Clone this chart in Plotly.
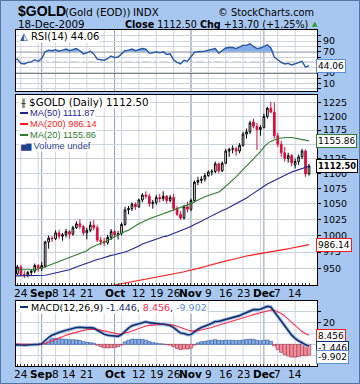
import math
import plotly.graph_objects as go

# ---------------- data ----------------
dates = [
    "2009-08-20", "2009-08-21", "2009-08-24", "2009-08-25", "2009-08-26", "2009-08-27", "2009-08-28", "2009-08-31",
    "2009-09-01", "2009-09-02", "2009-09-03", "2009-09-04", "2009-09-08", "2009-09-09", "2009-09-10", "2009-09-11",
    "2009-09-14", "2009-09-15", "2009-09-16", "2009-09-17", "2009-09-18", "2009-09-21", "2009-09-22", "2009-09-23",
    "2009-09-24", "2009-09-25", "2009-09-28", "2009-09-29", "2009-09-30",
    "2009-10-01", "2009-10-02", "2009-10-05", "2009-10-06", "2009-10-07", "2009-10-08", "2009-10-09", "2009-10-12",
    "2009-10-13", "2009-10-14", "2009-10-15", "2009-10-16", "2009-10-19", "2009-10-20", "2009-10-21", "2009-10-22",
    "2009-10-23", "2009-10-26", "2009-10-27", "2009-10-28", "2009-10-29", "2009-10-30",
    "2009-11-02", "2009-11-03", "2009-11-04", "2009-11-05", "2009-11-06", "2009-11-09", "2009-11-10", "2009-11-11",
    "2009-11-12", "2009-11-13", "2009-11-16", "2009-11-17", "2009-11-18", "2009-11-19", "2009-11-20", "2009-11-23",
    "2009-11-24", "2009-11-25", "2009-11-26", "2009-11-27", "2009-11-30",
    "2009-12-01", "2009-12-02", "2009-12-03", "2009-12-04", "2009-12-07", "2009-12-08", "2009-12-09", "2009-12-10",
    "2009-12-11", "2009-12-14", "2009-12-15", "2009-12-16", "2009-12-17", "2009-12-18",
]

opens = [938, 943, 953, 942, 941, 945, 947, 955, 951, 954, 990, 996, 995, 1004, 999, 1001,
         1006, 1002, 1012, 1018, 1014, 1004, 1008, 1016, 1012, 993, 991, 989, 997,
         1006, 1001, 1003, 1017, 1040, 1042, 1049, 1045, 1056, 1064, 1062, 1050, 1052, 1060, 1058, 1062,
         1055, 1060, 1042, 1033, 1027, 1045,
         1041, 1055, 1085, 1088, 1090, 1096, 1102, 1103, 1116, 1104, 1117, 1138, 1141, 1142, 1138, 1148,
         1168, 1172, 1190, 1182, 1176,
         1180, 1200, 1215, 1208, 1165, 1150, 1135, 1125, 1130, 1114, 1120, 1128, 1138, 1099]
highs = [946, 956, 956, 947, 947, 949, 958, 957, 960, 992, 1000, 999, 1008, 1009, 1004, 1010,
         1008, 1015, 1022, 1025, 1016, 1012, 1022, 1024, 1016, 998, 996, 1001, 1010,
         1008, 1007, 1020, 1045, 1046, 1052, 1052, 1058, 1067, 1070, 1066, 1056, 1064, 1066, 1070, 1064,
         1064, 1066, 1046, 1038, 1048, 1053,
         1058, 1088, 1094, 1095, 1100, 1105, 1107, 1120, 1118, 1120, 1142, 1144, 1148, 1146, 1152, 1172,
         1178, 1192, 1196, 1188, 1184,
         1205, 1218, 1227, 1226, 1170, 1156, 1145, 1135, 1133, 1125, 1132, 1142, 1141, 1116]
lows = [935, 941, 940, 937, 938, 940, 944, 946, 947, 952, 980, 990, 993, 995, 992, 997,
        995, 1000, 1010, 1010, 1000, 994, 1005, 1008, 990, 985, 984, 986, 993,
        997, 994, 1000, 1015, 1033, 1038, 1040, 1043, 1052, 1058, 1045, 1042, 1048, 1052, 1054, 1050,
        1052, 1038, 1030, 1024, 1025, 1036,
        1038, 1052, 1080, 1083, 1086, 1094, 1096, 1100, 1100, 1102, 1115, 1128, 1134, 1130, 1134, 1146,
        1160, 1168, 1178, 1140, 1165,
        1178, 1196, 1206, 1160, 1145, 1128, 1120, 1118, 1112, 1108, 1114, 1124, 1094, 1096]
closes = [943, 953, 942, 941, 945, 947, 955, 951, 955, 990, 996, 995, 1004, 999, 1001, 1006,
          1002, 1012, 1018, 1014, 1004, 1008, 1016, 1012, 993, 991, 989, 997, 1006,
          1001, 1003, 1017, 1040, 1042, 1049, 1045, 1056, 1064, 1062, 1050, 1052, 1060, 1058, 1062, 1055,
          1060, 1042, 1033, 1027, 1045, 1041,
          1055, 1085, 1088, 1090, 1096, 1102, 1103, 1116, 1104, 1117, 1138, 1141, 1142, 1138, 1148, 1168,
          1172, 1188, 1182, 1176, 1180,
          1200, 1215, 1208, 1165, 1150, 1135, 1125, 1130, 1118, 1120, 1128, 1138, 1098.8, 1112.5]

ma20 = [949, 949, 949, 948, 948, 948, 949, 950, 951, 953, 955, 957, 959, 961, 962, 964,
        966, 968, 970, 972, 974, 977, 981, 984, 986, 988, 990, 992, 995,
        998, 1001, 1003, 1006, 1008, 1012, 1015, 1018, 1021, 1024, 1026, 1028, 1030, 1032, 1034, 1036,
        1038, 1040, 1042, 1043, 1045, 1047,
        1050, 1053, 1056, 1059, 1061, 1063, 1065, 1067, 1069, 1073, 1078, 1083, 1088, 1094, 1100, 1106,
        1112, 1118, 1124, 1131, 1137,
        1145, 1151, 1155, 1158, 1160, 1161, 1162, 1162, 1162, 1161, 1160, 1159, 1157, 1155.86]
ma50 = [940, 940, 940, 940, 940, 940, 940, 940, 940, 941, 942, 943, 944, 945, 946, 948,
        949, 951, 953, 955, 956, 958, 960, 962, 964, 965, 967, 968, 970,
        971, 972, 974, 975, 977, 979, 982, 984, 987, 989, 991, 993, 994, 996, 998, 999,
        1001, 1003, 1005, 1007, 1009, 1012,
        1014, 1017, 1019, 1022, 1025, 1028, 1030, 1033, 1036, 1039, 1041, 1044, 1046, 1049, 1052, 1055,
        1059, 1063, 1067, 1071, 1075,
        1079, 1082, 1085, 1088, 1091, 1094, 1097, 1100, 1102, 1104, 1106, 1108, 1110, 1111.87]
ma200 = [None, None, None, None, None, None, None, None, None, None, None, None, None, None, None, None,
         None, None, None, None, None, None, None, None, None, None, None, None, 926,
         927, 928, 929, 930, 931, 932, 933, 934, 935, 936, 937, 938, 939, 939.5, 940, 941,
         942, 943, 944, 945, 946, 947,
         948, 949.5, 951, 952, 953.5, 955, 956, 957.5, 959, 960, 961.5, 963, 964, 965.5, 967, 968,
         969, 970, 971, 972, 973,
         974, 975, 976, 976.5, 977, 978, 979, 980, 981, 982, 983, 984, 985, 986.14]

rsi = [55, 56, 48, 47, 50, 51, 55, 52, 57, 70, 73, 72, 74, 71, 73, 75,
       72, 74, 76, 72, 66, 68, 71, 66, 56, 55, 54, 57, 62,
       59, 60, 66, 72, 73, 75, 72, 74, 76, 75, 67, 68, 70, 68, 70, 65,
       66, 55, 50, 47, 54, 52,
       60, 69, 70, 70, 71, 73, 74, 76, 67, 72, 77, 78, 78, 76, 79, 82,
       82, 85, 80, 76, 77,
       80, 83, 77, 60, 55, 50, 47, 48, 45, 47, 49, 52, 41, 44.06]

macd = [-0.5, -0.3, -0.6, -0.8, -0.8, -0.6, -0.2, 0.0, 0.5, 3.5, 6.5, 8.5, 10.0, 11.0, 12.0, 13.0,
        13.6, 14.6, 15.5, 15.8, 15.4, 15.2, 15.4, 15.0, 13.0, 11.2, 9.4, 8.4, 8.0,
        7.5, 7.4, 9.0, 12.5, 15.0, 17.2, 18.2, 19.4, 20.4, 20.8, 20.0, 19.5, 19.3, 19.0, 18.8, 18.0,
        17.4, 15.5, 12.8, 10.4, 10.0, 8.8,
        9.0, 11.5, 14.0, 15.6, 16.6, 18.0, 19.4, 21.0, 21.2, 22.0, 23.2, 24.2, 25.0, 25.5, 26.5, 28.0,
        29.5, 31.0, 32.0, 32.0, 32.3,
        33.8, 35.0, 34.5, 30.0, 25.5, 21.0, 16.5, 12.5, 8.5, 5.5, 3.0, 1.5, -0.5, -1.446]
signal = [0.2, 0.1, 0.0, -0.2, -0.3, -0.4, -0.3, -0.2, 0.0, 0.7, 1.9, 3.2, 4.6, 5.9, 7.1, 8.3,
          9.4, 10.4, 11.4, 12.3, 12.9, 13.4, 13.8, 14.0, 13.8, 13.3, 12.5, 11.7, 11.0,
          10.3, 9.7, 9.6, 10.2, 11.2, 12.4, 13.6, 14.8, 15.9, 16.9, 17.5, 17.9, 18.2, 18.4, 18.5, 18.4,
          18.2, 17.7, 16.7, 15.4, 14.3, 13.2,
          12.4, 12.2, 12.6, 13.2, 13.9, 14.7, 15.6, 16.7, 17.6, 18.5, 19.4, 20.4, 21.3, 22.1, 23.0, 24.0,
          25.1, 26.3, 27.4, 28.3, 29.1,
          30.0, 31.0, 31.7, 31.4, 30.2, 28.4, 26.0, 23.3, 20.3, 17.3, 14.4, 11.8, 10.1, 8.456]
hist = [m - s for m, s in zip(macd, signal)]

tick_dates = ["2009-08-24", "2009-09-01", "2009-09-08", "2009-09-14", "2009-09-21", "2009-10-01",
              "2009-10-12", "2009-10-19", "2009-10-26", "2009-11-02", "2009-11-09", "2009-11-16",
              "2009-11-23", "2009-12-01", "2009-12-07", "2009-12-14"]
tick_labels = ["24", "<b>Sep</b>", "8", "14", "21", "<b>Oct</b>", "12", "19", "26", "<b>Nov</b>",
               "9", "16", "23", "<b>Dec</b>", "7", "14"]
week_dates = ["2009-08-24", "2009-08-31", "2009-09-08", "2009-09-14", "2009-09-21", "2009-09-28",
              "2009-10-05", "2009-10-12", "2009-10-19", "2009-10-26", "2009-11-02", "2009-11-09",
              "2009-11-16", "2009-11-23", "2009-11-30", "2009-12-07", "2009-12-14"]
month_dates = ["2009-09-01", "2009-10-01", "2009-11-02", "2009-12-01"]
price_ticks = [950, 975, 1000, 1025, 1050, 1075, 1100, 1125, 1150, 1175, 1200, 1225]
price_tick_text = ["950", "975", "1000", "1025", "1050", "1075", "1100", "1125", "", "1175", "1200", "1225"]
rsi_ticks = [0, 10, 20, 30, 40, 50, 60, 70, 80, 90, 100]
rsi_tick_text = ["", "10", "", "30", "", "", "", "70", "", "90", ""]
macd_ticks = [-10, 0, 10, 20, 30]
macd_tick_text = ["", "", "", "20", ""]

# ---------------- styling ----------------
W, H = 360, 384
BG = "#a7c7f1"
GRID = "#cdd3dd"
MONTH = "#8f9cb0"
RED = "#d3103c"
NAVY = "#1f2590"
GREEN = "#2f7d2f"
MA200C = "#ff1a1a"
RSIC = "#2658a6"
RSIFILL = "#86aee6"
FONT = "DejaVu Sans"
NARROW = "Liberation Sans"


def px(x):
    return x / W


def py(y):
    return 1 - y / H


XD = [px(16), px(317)]
RSI_D = [py(91), py(30)]
PRICE_D = [py(285), py(95)]
MACD_D = [py(366), py(301)]

fig = go.Figure()

# RSI panel
fig.add_trace(go.Scatter(x=dates, y=[70] * len(dates), mode="lines", line=dict(width=0),
                         xaxis="x", yaxis="y", hoverinfo="skip"))
fig.add_trace(go.Scatter(x=dates, y=[max(r, 70) for r in rsi], mode="lines", line=dict(width=0),
                         fill="tonexty", fillcolor=RSIFILL, xaxis="x", yaxis="y", hoverinfo="skip"))
fig.add_trace(go.Scatter(x=dates, y=rsi, mode="lines", line=dict(color=RSIC, width=1.4),
                         xaxis="x", yaxis="y"))

# Price panel
fig.add_trace(go.Scatter(x=dates, y=ma200, mode="lines", line=dict(color=MA200C, width=1.1),
                         xaxis="x2", yaxis="y2", connectgaps=False))
fig.add_trace(go.Scatter(x=dates, y=ma50, mode="lines", line=dict(color=NAVY, width=1.1),
                         xaxis="x2", yaxis="y2"))
fig.add_trace(go.Scatter(x=dates, y=ma20, mode="lines", line=dict(color=GREEN, width=1.1),
                         xaxis="x2", yaxis="y2"))
fig.add_trace(go.Candlestick(x=dates, open=opens, high=highs, low=lows, close=closes,
                             xaxis="x2", yaxis="y2", whiskerwidth=0,
                             increasing=dict(line=dict(color="black", width=1), fillcolor="white"),
                             decreasing=dict(line=dict(color=RED, width=1), fillcolor=RED)))

# MACD panel
fig.add_trace(go.Bar(x=dates, y=hist, xaxis="x3", yaxis="y3",
                     marker=dict(color=["#8db0e4" if h >= 0 else "#f2909e" for h in hist],
                                 line=dict(color=["#2b55a0" if h >= 0 else "#a03048" for h in hist],
                                           width=0.6))))
fig.add_trace(go.Scatter(x=dates, y=macd, mode="lines", line=dict(color="#a9c2e6", width=3.6),
                         xaxis="x3", yaxis="y3", hoverinfo="skip"))
fig.add_trace(go.Scatter(x=dates, y=signal, mode="lines", line=dict(color="#ff2a4a", width=1.1),
                         xaxis="x3", yaxis="y3"))
fig.add_trace(go.Scatter(x=dates, y=macd, mode="lines", line=dict(color="#15306e", width=1.6),
                         xaxis="x3", yaxis="y3"))


def xax(anchor, ticks):
    return dict(type="category", categoryorder="array", categoryarray=dates, range=[0.6, 87.3],
                domain=XD, anchor=anchor, showgrid=False, zeroline=False, showline=True, mirror=True,
                linecolor="black", linewidth=1, tickmode="array", tickvals=dates,
                showticklabels=False, ticks="inside" if ticks else "", ticklen=2, tickcolor="#333333",
                fixedrange=True, rangeslider=dict(visible=False))


def yax(domain, anchor, **kw):
    d = dict(domain=domain, anchor=anchor, side="right", showgrid=True, gridcolor=GRID, gridwidth=1,
             zeroline=False, showline=True, mirror=True, linecolor="black", linewidth=1,
             ticks="outside", ticklen=3, tickcolor="black",
             tickfont=dict(family=FONT, size=9.5, color="black"), fixedrange=True)
    d.update(kw)
    return d


shapes = []
for xa, ya in (("x", "y"), ("x2", "y2"), ("x3", "y3")):
    for d in week_dates:
        shapes.append(dict(type="line", xref=xa, yref=ya + " domain", x0=d, x1=d, y0=0, y1=1,
                           line=dict(color=GRID, width=1), layer="below"))
    for d in month_dates:
        shapes.append(dict(type="line", xref=xa, yref=ya + " domain", x0=d, x1=d, y0=0, y1=1,
                           line=dict(color=MONTH, width=1), layer="below"))
for lvl, dash in ((70, "solid"), (30, "solid"), (50, "dashdot")):
    shapes.append(dict(type="line", xref="x domain", yref="y", x0=0, x1=1, y0=lvl, y1=lvl,
                       line=dict(color="black", width=1, dash=dash), layer="below"))
shapes.append(dict(type="rect", xref="paper", yref="paper", x0=0.001, x1=0.999, y0=0.001, y1=0.999,
                   line=dict(color="#4a6a98", width=1)))


def note(x, y, text, size=10, color="black", anchor="left", bg=None, bold=False, family=FONT):
    a = dict(x=px(x), y=py(y), xref="paper", yref="paper", xanchor=anchor, yanchor="middle",
             text=("<b>%s</b>" % text) if bold else text, showarrow=False,
             font=dict(family=family, size=size, color=color))
    if bg:
        a.update(bgcolor=bg, borderpad=0)
    return a


def tag(yval, yref, text, border, bold=False, yshift=0):
    return dict(x=px(316), xref="paper", xanchor="left", y=yval, yref=yref, yanchor="middle",
                text=("<b>%s</b>" % text) if bold else text, showarrow=False, yshift=yshift,
                font=dict(family=FONT, size=8.4 if bold else 9, color="black"), bgcolor="white",
                bordercolor=border, borderwidth=1, borderpad=1)


# legend colour swatches (short lines) inside the price / MACD panels
for yy, col in ((113, NAVY), (124, MA200C), (135, GREEN), (307, "#15306e")):
    shapes.append(dict(type="rect", xref="paper", yref="paper", x0=px(18), x1=px(30),
                       y0=py(yy + 5), y1=py(yy - 5), fillcolor="white", line=dict(width=0)))
    shapes.append(dict(type="line", xref="paper", yref="paper", x0=px(20), x1=px(28),
                       y0=py(yy), y1=py(yy), line=dict(color=col, width=2)))

annotations = [
    note(16, 11, "$GOLD", size=14, bold=True, family=NARROW),
    note(63, 12, "(Gold (EOD))", size=10.3),
    note(131, 12, "INDX", size=10.3),
    note(316, 12, "© StockCharts.com", size=9.8, anchor="right"),
    note(16, 24, "18-Dec-2009", size=10.3),
    note(123, 24, "<b>Close</b> 1112.50 <b>Chg</b> +13.70 (+1.25%)", size=9.6),
    note(310, 24, "▲", size=7, color="#2c9a2c"),
    note(19, 37, "<span style='color:%s'>◭</span> RSI(14) 44.06" % RSIC, size=10, bg="white"),
    note(19, 102, "<span style='font-size:8px'>╫</span> $GOLD (Daily) 1112.50", size=10.3, bg="white"),
    note(29, 113, "MA(50) 1111.87", size=9.3, color=NAVY, bg="white", family=NARROW),
    note(29, 124, "MA(200) 986.14", size=9.3, color=MA200C, bg="white", family=NARROW),
    note(29, 135, "MA(20) 1155.86", size=9.3, color=GREEN, bg="white", family=NARROW),
    note(19, 146, "<span style='font-size:7px'>▆▇</span> Volume undef", size=9.3, color="#1f3f8f",
         bg="white", family=NARROW),
    note(30, 307, "MACD(12,26,9) <span style='color:#15306e'>-1.446</span>, "
                  "<span style='color:#ff2a4a'>8.456</span>, <span style='color:#5b8fd8'>-9.902</span>",
         size=9.5, bg="white"),
    tag(44.06, "y", "44.06", "#5b8fd8"),
    tag(math.log10(1155.86), "y2", "1155.86", GREEN),
    tag(math.log10(1112.50), "y2", "1112.50", "black", bold=True),
    tag(math.log10(986.14), "y2", "986.14", MA200C),
    tag(8.456, "y3", "8.456", MA200C, yshift=-1),
    tag(-1.446, "y3", "-1.446", "#15306e", yshift=-2),
    tag(-9.902, "y3", "-9.902", "#5b8fd8", yshift=-2),
]

# date labels below the price panel and below the MACD panel
for xa, yy in (("x2", 293), ("x3", 374)):
    for d, lbl in zip(tick_dates, tick_labels):
        annotations.append(dict(x=d, xref=xa, y=py(yy), yref="paper", xanchor="center", yanchor="middle",
                                text=lbl, showarrow=False, font=dict(family=FONT, size=10.5, color="black")))

fig.update_layout(
    width=W, height=H, margin=dict(l=0, r=0, t=0, b=0), autosize=False,
    paper_bgcolor=BG, plot_bgcolor="white", showlegend=False, bargap=0,
    font=dict(family=FONT, size=10, color="black"),
    xaxis=xax("y", False), xaxis2=xax("y2", True), xaxis3=xax("y3", True),
    yaxis=yax(RSI_D, "x", range=[-4, 111], tickmode="array", tickvals=rsi_ticks, ticktext=rsi_tick_text),
    yaxis2=yax(PRICE_D, "x2", type="log", range=[math.log10(927), math.log10(1240)], tickmode="array",
               tickvals=price_ticks, ticktext=price_tick_text),
    yaxis3=yax(MACD_D, "x3", range=[-20, 40], tickmode="array", tickvals=macd_ticks, ticktext=macd_tick_text),
    shapes=shapes, annotations=annotations,
)

fig.write_html("out.html", config={"displayModeBar": False, "staticPlot": True},
               post_script="document.body.style.margin='0px';document.body.style.overflow='hidden';")
